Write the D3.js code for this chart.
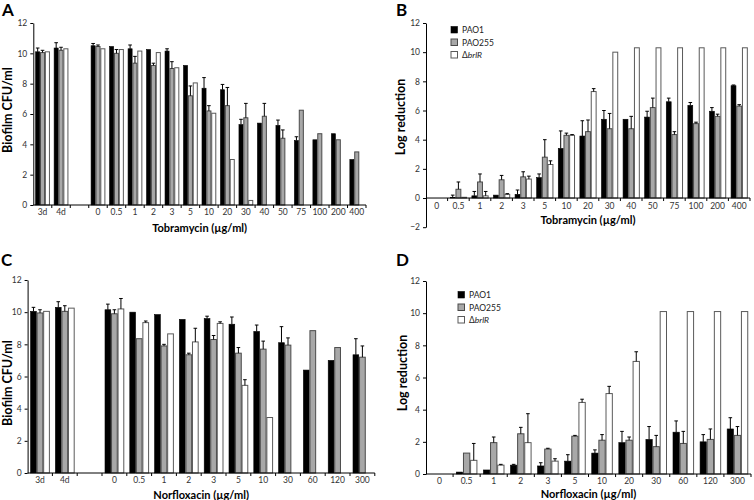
<!DOCTYPE html>
<html><head><meta charset="utf-8">
<script src="https://cdn.jsdelivr.net/npm/d3@7"></script>
<style>body{margin:0;background:#fff}svg{display:block}text{font-family:Lato,"Open Sans",sans-serif}</style>
</head><body>
<svg id="c" width="754" height="500"></svg>
<script>
// ---- Panel A: Tobramycin, Biofilm CFU/ml
const catsA = ["3d","4d","","0","0.5","1","2","3","5","10","20","30","40","50","75","100","200","400"];
const pao1A = [10.1,10.35,null,10.5,10.45,10.3,10.25,10.15,9.2,7.7,7.6,5.3,5.4,5.25,4.25,4.3,4.7,3.0];
const pao1ErrA = [0.25,0.35,null,0.15,0,0.25,0,0.15,0,0.7,0.35,0.35,0,0.35,0.25,0,0,0];
const pao255A = [10.05,10.2,null,10.45,10.0,9.35,9.2,9.0,7.2,6.2,6.55,5.75,5.85,4.4,6.25,4.7,4.3,3.5];
const pao255ErrA = [0.15,0.2,null,0.1,0.25,0.45,0.15,0.45,0.65,0.35,1.2,0.95,0.85,0.55,0,0,0,0];
const brlRA = [10.1,10.3,null,10.3,10.25,10.15,10.05,9.05,8.05,6.05,3.0,0.3,null,null,null,null,null,null];
const brlRErrA = [0,0,null,0,0,0,0,0,0,0,0,0,null,null,null,null,null,null];

// ---- Panel B: Tobramycin, Log reduction
const catsB = ["0","0.5","1","2","3","5","10","20","30","40","50","75","100","200","400"];
const pao1B = [0,0.05,0.15,0.2,0.25,1.4,3.4,4.25,5.4,5.4,5.55,6.6,6.35,5.95,7.7];
const pao1ErrB = [0,0.15,0.3,0,0.3,0.25,1.2,1.05,0.6,0,0.4,0.25,0.2,0.25,0.05];
const pao255B = [0,0.6,1.1,1.25,1.45,2.8,4.3,4.55,4.75,4.75,6.2,4.35,5.1,5.6,6.3];
const pao255ErrB = [0,0.5,0.55,0.3,0.35,1.2,0.15,0.8,1.05,0.85,0.65,0.2,0.1,0.15,0.1];
const brlRB = [0,0.05,0.15,0.25,1.3,2.3,4.3,7.3,10.0,10.3,10.3,10.3,10.3,10.3,10.3];
const brlRErrB = [0,0,0.3,0.05,0.2,0.25,0.05,0.2,0,0,0,0,0,0,0];

// ---- Panel C: Norfloxacin, Biofilm CFU/ml
const catsC = ["3d","4d","","0","0.5","1","2","3","5","10","30","60","120","300"];
const pao1C = [10.05,10.3,null,10.15,10.0,9.85,9.55,9.6,9.25,8.8,8.1,6.4,7.0,7.35];
const pao1ErrC = [0.25,0.35,null,0.35,0,0,0,0.15,0.45,0.4,1.0,0,0,1.0];
const pao255C = [9.95,10.05,null,9.9,8.35,7.9,7.35,8.3,7.45,7.7,7.95,8.85,7.8,7.2];
const pao255ErrC = [0.2,0.35,null,0.25,0,0.1,0.1,0.25,0.35,0.5,0.45,0,0,0.7];
const brlRC = [10.05,10.25,null,10.2,9.35,8.65,8.15,9.3,5.45,3.45,null,null,null,null];
const brlRErrC = [0,0,null,0.65,0.1,0,0.85,0.1,0.35,0,null,null,null,null];

// ---- Panel D: Norfloxacin, Log reduction
const catsD = ["0","0.5","1","2","3","5","10","20","30","60","120","300"];
const pao1D = [0,0.12,0.25,0.55,0.5,0.8,1.3,1.95,2.15,2.6,2.0,2.8];
const pao1ErrD = [0,0,0,0.05,0.2,0.4,0.2,0.7,0.8,0.7,0.45,0.7];
const pao255D = [0,1.3,1.95,2.5,1.55,2.35,2.1,2.1,1.7,1.9,2.15,2.4];
const pao255ErrD = [0,0,0.35,0.4,0.05,0.05,0.35,0.2,0.7,0.75,0.65,0.55];
const brlRD = [0,0.85,0.55,1.95,0.8,4.45,5.0,7.0,10.1,10.1,10.1,10.1];
const brlRErrD = [0,1.05,0.05,1.8,0.15,0.2,0.45,0.6,0,0,0,0];

const yTicksCFU = [0,2,4,6,8,10,12];
const yTicksLog = [-2,0,2,4,6,8,10,12];
const seriesNames = ["PAO1","PAO255","brlR"];

const fills = ["#000000","#a8a8a8","#ffffff"];
const strokes = ["#000000","#4a4a4a","#5a5a5a"];

const svg = d3.select("#c");

function panel(o){
  const g = svg.append("g");
  const x = d3.scaleBand().domain(o.cats.map((c,i)=>i)).range([o.x0,o.x1]);
  const y = d3.scaleLinear().domain(o.ydom).range([o.yb,o.yt]);
  const inner = d3.scaleBand().domain([0,1,2]).range([0,x.bandwidth()]).paddingOuter(0.4);
  const series = [[o.s1,o.e1],[o.s2,o.e2],[o.s3,o.e3]];
  series.forEach(([vals,errs],si)=>{
    vals.forEach((v,i)=>{
      if(v===null) return;
      const bx = x(i)+inner(si), bw = inner.bandwidth();
      const top = y(Math.max(v,0)), base = y(0);
      const h = Math.abs(base-top);
      if(h>0.01) g.append("rect").attr("x",bx+0.4).attr("y",top).attr("width",bw-0.8).attr("height",h)
        .attr("fill",fills[si]).attr("stroke",strokes[si]).attr("stroke-width",si===0?0.6:1);
      const e = errs[i];
      if(e && e>0){
        const cx = bx+bw/2, ey = y(v+e);
        g.append("line").attr("x1",cx).attr("x2",cx).attr("y1",top).attr("y2",ey).attr("stroke","#000").attr("stroke-width",1);
        g.append("line").attr("x1",cx-1.8).attr("x2",cx+1.8).attr("y1",ey).attr("y2",ey).attr("stroke","#000").attr("stroke-width",1);
      }
    });
  });
  const ya = g.append("g").attr("transform",`translate(${o.x0},0)`)
    .call(d3.axisLeft(y).tickValues(o.yticks).tickSize(3).tickSizeOuter(0).tickPadding(3));
  ya.select(".domain").attr("stroke","#000");
  ya.selectAll(".tick line").attr("stroke","#000");
  ya.selectAll("text").attr("font-size","8.5px").attr("fill","#333");
  const y0 = y(0);
  g.append("line").attr("x1",o.x0).attr("x2",o.x1).attr("y1",y0).attr("y2",y0).attr("stroke","#000").attr("stroke-width",1);
  o.cats.forEach((c,i)=>{
    if(i>0) g.append("line").attr("x1",x(i)).attr("x2",x(i)).attr("y1",y0).attr("y2",y0+3).attr("stroke","#000");
    g.append("text").attr("x",x(i)+x.bandwidth()/2).attr("y",o.labY).attr("text-anchor","middle")
      .attr("font-size","8.5px").attr("fill","#333").text(c);
  });
  g.append("line").attr("x1",o.x1).attr("x2",o.x1).attr("y1",y0).attr("y2",y0+3).attr("stroke","#000");
  g.append("text").attr("x",(o.x0+o.x1)/2).attr("y",o.xtY).attr("text-anchor","middle")
    .attr("font-size","11px").attr("font-weight","bold").text(o.xtitle);
  g.append("text").attr("transform",`translate(${o.ytX},${o.ytY}) rotate(-90)`).attr("text-anchor","middle")
    .attr("font-size","12.5px").attr("font-weight","bold").text(o.ytitle);
  g.append("text").attr("x",o.lx).attr("y",o.ly).attr("font-size","17px").attr("font-weight","bold")
    .attr("font-family","Arial, 'Liberation Sans', sans-serif").text(o.letter);
  if(o.leg){
    seriesNames.forEach((n,i)=>{
      const yy = o.leg[1]+i*12.5;
      g.append("rect").attr("x",o.leg[0]).attr("y",yy-3.5).attr("width",6.5).attr("height",6.5)
        .attr("fill",fills[i]).attr("stroke",strokes[i]).attr("stroke-width",i===0?0.6:1);
      const t = g.append("text").attr("x",o.leg[0]+11).attr("y",yy+3).attr("font-size","8.5px").attr("fill","#222");
      if(i<2) t.text(n);
      else { t.append("tspan").text("Δ"); t.append("tspan").attr("font-style","italic").text(n); }
    });
  }
}

panel({cats:catsA,s1:pao1A,e1:pao1ErrA,s2:pao255A,e2:pao255ErrA,s3:brlRA,e3:brlRErrA,
  x0:33.3,x1:366,yt:23,yb:205,ydom:[0,12],yticks:yTicksCFU,labY:215,xtY:232,xtitle:"Tobramycin (µg/ml)",
  ytX:12,ytY:110,ytitle:"Biofilm CFU/ml",letter:"A",lx:2,ly:16});
panel({cats:catsB,s1:pao1B,e1:pao1ErrB,s2:pao255B,e2:pao255ErrB,s3:brlRB,e3:brlRErrB,
  x0:426,x1:750,yt:23,yb:227.2,ydom:[-2,12],yticks:yTicksLog,labY:209,xtY:224,xtitle:"Tobramycin (µg/ml)",
  ytX:405,ytY:117,ytitle:"Log reduction",letter:"B",lx:396,ly:16,leg:[451,30]});
panel({cats:catsC,s1:pao1C,e1:pao1ErrC,s2:pao255C,e2:pao255ErrC,s3:brlRC,e3:brlRErrC,
  x0:27.6,x1:374.8,yt:280,yb:473,ydom:[0,12],yticks:yTicksCFU,labY:483,xtY:499,xtitle:"Norfloxacin (µg/ml)",
  ytX:12,ytY:383,ytitle:"Biofilm CFU/ml",letter:"C",lx:1,ly:266});
panel({cats:catsD,s1:pao1D,e1:pao1ErrD,s2:pao255D,e2:pao255ErrD,s3:brlRD,e3:brlRErrD,
  x0:426,x1:751,yt:281,yb:474,ydom:[0,12],yticks:yTicksCFU,labY:484,xtY:498,xtitle:"Norfloxacin (µg/ml)",
  ytX:407,ytY:373,ytitle:"Log reduction",letter:"D",lx:396,ly:266,leg:[458,295]});
</script>
</body></html>
